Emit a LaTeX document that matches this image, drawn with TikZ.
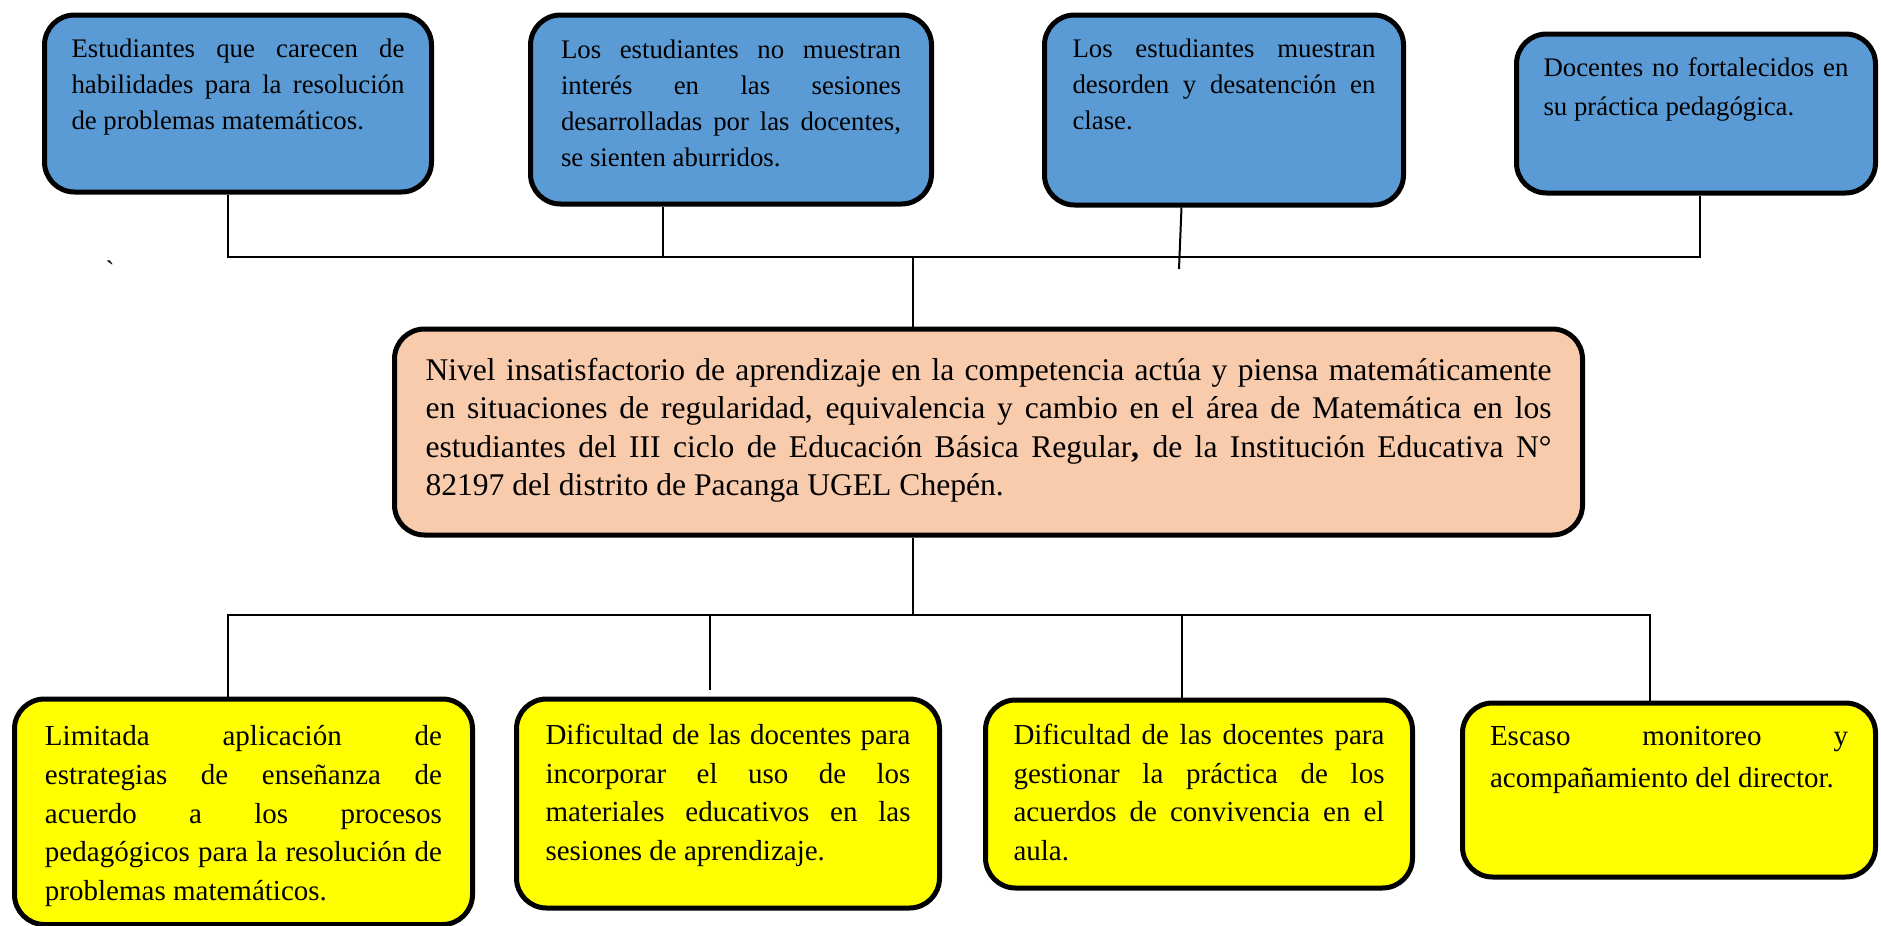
\documentclass[tikz,border=0pt]{standalone}
\usepackage{fontspec}
\setmainfont{Liberation Serif}
\usetikzlibrary{positioning}
\definecolor{azul}{HTML}{5B9BD5}
\definecolor{salmon}{HTML}{F8CBAD}
\definecolor{amarillo}{HTML}{FFFF00}
\hyphenpenalty=10000
\exhyphenpenalty=10000

\begin{document}
\begin{tikzpicture}[x=0.5pt,y=-0.5pt,
  caja/.style={draw,line width=2.5pt,rounded corners=15pt,anchor=north,
    inner sep=0pt,align=justify},
  causa/.style={caja,fill=azul,font=\fontsize{13.4}{18}\selectfont},
  problema/.style={caja,fill=salmon,font=\fontsize{15.8}{19.2}\selectfont},
  efecto/.style={caja,fill=amarillo,font=\fontsize{14.5}{19.4}\selectfont},
  linea/.style={line width=1pt}]
  \useasboundingbox (0,0) rectangle (1881,926);
  \coordinate (tbar) at (913,257);
  \coordinate (bbar) at (913,615);
  % causas
  \node[causa,minimum width=193.5pt,text width=166.5pt,text height=21.25pt,text depth=67.25pt] (ca) at (238,12.5)
    {Estudiantes que carecen de\linebreak habilidades para la resolución\linebreak de problemas matemáticos.};
  \node[causa,minimum width=200.5pt,text width=170pt,text height=21.75pt,text depth=72.75pt] (cb) at (731,12.5)
    {Los estudiantes no muestran\linebreak interés en las sesiones\linebreak desarrolladas por las docentes,\linebreak se sienten aburridos.};
  \node[causa,minimum width=179.5pt,text width=151.5pt,text height=21.25pt,text depth=73.75pt] (cc) at (1224,12.5)
    {Los estudiantes muestran\linebreak desorden y desatención en\linebreak clase.};
  \node[causa,font=\fontsize{13.4}{19.3}\selectfont,minimum width=179.5pt,text width=152.5pt,text height=21.25pt,text depth=58.25pt] (cd) at (1696,31.5)
    {Docentes no fortalecidos en\linebreak su práctica pedagógica.};
  % problema
  \node[problema,minimum width=594pt,text width=563pt,text height=25.75pt,text depth=77.25pt] (prob) at (988.5,326.5)
    {Nivel insatisfactorio de aprendizaje en la competencia actúa y piensa matemáticamente\linebreak
     en situaciones de regularidad, equivalencia y cambio en el área de Matemática en los\linebreak
     estudiantes del III ciclo de Educación Básica Regular\textbf{,} de la Institución Educativa N°\linebreak
     82197 del distrito de Pacanga UGEL Chepén.};
  % efectos
  \node[efecto,minimum width=229pt,text width=198.5pt,text height=23.25pt,text depth=89.5pt] (ea) at (243.5,696.5)
    {Limitada aplicación de\linebreak estrategias de enseñanza de\linebreak acuerdo a los procesos\linebreak pedagógicos para la resolución de\linebreak problemas matemáticos.};
  \node[efecto,minimum width=211.5pt,text width=182.5pt,text height=22.6pt,text depth=81.9pt] (eb) at (728,696.5)
    {Dificultad de las docentes para\linebreak incorporar el uso de los\linebreak materiales educativos en las\linebreak sesiones de aprendizaje.};
  \node[efecto,minimum width=213.5pt,text width=185.5pt,text height=22.1pt,text depth=71.9pt] (ec) at (1199,697.5)
    {Dificultad de las docentes para\linebreak gestionar la práctica de los\linebreak acuerdos de convivencia en el\linebreak aula.};
  \node[efecto,font=\fontsize{14.5}{21}\selectfont,minimum width=206.5pt,text width=179pt,text height=21.25pt,text depth=65.75pt] (ed) at (1669,700.5)
    {Escaso monitoreo y\linebreak acompañamiento del director.};
  \node[font=\fontsize{13.4}{14}\selectfont,inner sep=0pt] (marca) at (110,270) {\textasciigrave};
  % conectores
  \draw[linea] ([xshift=-5pt]ca.south) |- (tbar);
  \draw[linea] ([xshift=-34pt]cb.south) |- (tbar);
  \draw[linea] ([xshift=-21.25pt]cc.south) -- ++(-2.5,61.5);
  \draw[linea] ([xshift=2pt]cd.south) |- (tbar);
  \draw[linea] (tbar) -- (tbar |- prob.north);
  \draw[linea] (bbar |- prob.south) -- (bbar);
  \draw[linea] ([xshift=-7.75pt]ea.north) |- (bbar);
  \draw[linea] ([xshift=-9pt,yshift=3.25pt]eb.north) |- (bbar);
  \draw[linea] ([xshift=-8.5pt]ec.north) |- (bbar);
  \draw[linea] ([xshift=-9.5pt]ed.north) |- (bbar);
\end{tikzpicture}
\end{document}
